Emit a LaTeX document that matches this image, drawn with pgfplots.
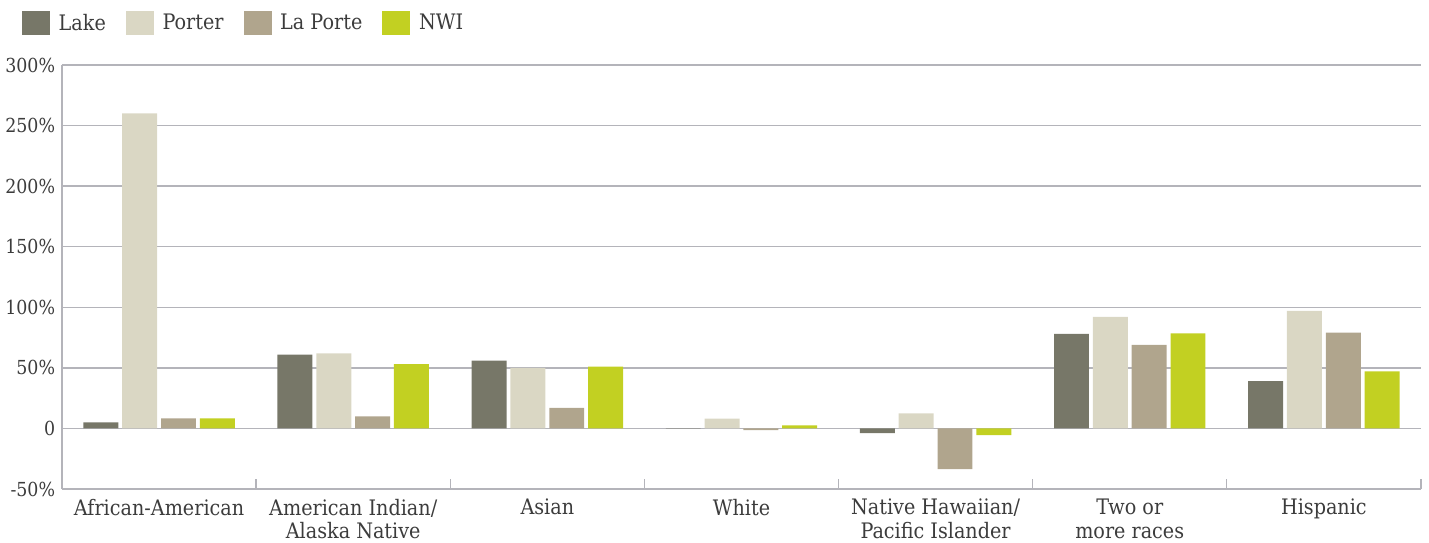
\documentclass[border=0pt]{standalone}
\usepackage{fontspec}
\setmainfont{DejaVu Serif Condensed}
\usepackage{pgfplots}
\pgfplotsset{compat=1.18}
\definecolor{lake}{HTML}{777768}
\definecolor{porter}{HTML}{DAD7C4}
\definecolor{laporte}{HTML}{B0A58D}
\definecolor{nwi}{HTML}{C2D022}
\definecolor{gridc}{HTML}{B4B4BA}
\definecolor{txt}{HTML}{3C3C3C}
\begin{document}
\begin{tikzpicture}
\path[use as bounding box] (0,0) rectangle (1071.75pt,407.25pt);
\begin{axis}[
  at={(46.5pt,40.5pt)}, anchor=south west,
  scale only axis, width=1019.25pt, height=318pt,
  ybar, bar width=0.18,
  xmin=-0.5, xmax=6.5, ymin=-50, ymax=300,
  axis x line*=bottom, axis y line*=left,
  axis line style={gridc, line width=1.2pt},
  xtick={0,...,6},
  xticklabels={African-American,{American Indian/\\Alaska Native},Asian,White,{Native Hawaiian/\\Pacific Islander},{Two or\\more races},Hispanic},
  minor xtick={-0.5,0.5,...,6.5},
  major tick length=0pt, minor tick length=7.5pt, tick align=inside,
  minor tick style={gridc, line width=1pt},
  ytick={-50,0,50,100,150,200,250,300},
  yticklabels={-50\%,0,50\%,100\%,150\%,200\%,250\%,300\%},
  ymajorgrids, major grid style={gridc, line width=1pt},
  ytick style={draw=none},
  xticklabel style={align=center, anchor=north, font=\fontsize{16}{17.5}\selectfont, text=txt, inner sep=0pt, yshift=-7.5pt},
  yticklabel style={anchor=east, font=\fontsize{14.5}{16}\selectfont, text=txt, inner sep=0pt, xshift=-5pt},
  legend style={at={(axis description cs:-0.0294,1.127)}, anchor=north west, draw=none, fill=none,
    inner sep=0pt, outer sep=0pt, legend columns=-1, font=\fontsize{16}{18}\selectfont, text=txt,
    nodes={inner sep=0pt},
    /tikz/every odd column/.append style={column sep=6.5pt},
    /tikz/every even column/.append style={column sep=15pt}},
  legend image code/.code={\fill[#1] (0pt,-9pt) rectangle (21pt,9pt);},
]
\addplot[fill=lake, draw=none, bar shift=-0.3] coordinates {(0,5) (1,61) (2,56) (3,0.3) (4,-3.9) (5,78) (6,39)};
\addplot[fill=porter, draw=none, bar shift=-0.1] coordinates {(0,260) (1,62) (2,50) (3,8) (4,12.4) (5,92) (6,97)};
\addplot[fill=laporte, draw=none, bar shift=0.1] coordinates {(0,8.3) (1,10) (2,17) (3,-1.4) (4,-33.6) (5,69) (6,79)};
\addplot[fill=nwi, draw=none, bar shift=0.3] coordinates {(0,8.3) (1,53) (2,51) (3,2.5) (4,-5.5) (5,78.5) (6,47)};
\legend{Lake,Porter,La Porte,NWI}
\end{axis}
\end{tikzpicture}
\end{document}
